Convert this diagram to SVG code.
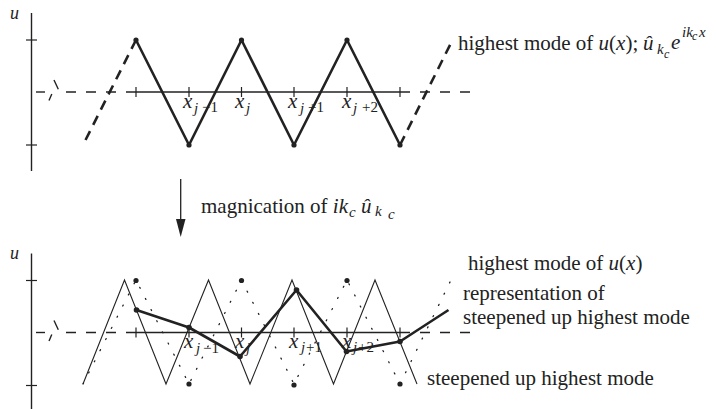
<svg xmlns="http://www.w3.org/2000/svg" width="716" height="409" viewBox="0 0 716 409">
<style>
.t{font-size:21px}
.i{font-style:italic}
.s{font-size:15px}
.ul{font-size:18px}
.ss{font-size:12px}
.f{font-family:'Liberation Serif',serif}
.ax{stroke:#222;stroke-width:1.4;fill:none}
.axd{stroke:#222;stroke-width:1.4;fill:none;stroke-dasharray:10 10}
.tk{stroke:#222;stroke-width:1.2}
.bold{stroke:#222;stroke-width:2.6;fill:none;stroke-linejoin:round}
.boldd{stroke:#222;stroke-width:2.6;fill:none;stroke-dasharray:10 7}
.thin{stroke:#222;stroke-width:1.1;fill:none;stroke-linejoin:miter}
.dot{stroke:#222;stroke-width:1.3;fill:none;stroke-dasharray:1 11.5;stroke-linecap:round}
.v{fill:#222}
</style>
<defs>
<g id="axes">
<line class="ax" x1="31.5" y1="0" x2="31.5" y2="158"/>
<line class="tk" x1="26" y1="27" x2="37" y2="27"/>
<line class="tk" x1="26" y1="132" x2="37" y2="132"/>
<line class="ax" x1="36" y1="79" x2="45" y2="79"/>
<line class="ax" x1="49" y1="87.5" x2="51.8" y2="81"/>
<line class="ax" x1="54" y1="67" x2="58.3" y2="76.3"/>
<line class="axd" x1="66" y1="79" x2="126" y2="79"/>
<line class="ax" x1="126" y1="79" x2="410" y2="79"/>
<line class="axd" x1="420" y1="79" x2="472" y2="79"/>
<g class="tk">
<line x1="136" y1="74" x2="136" y2="84"/>
<line x1="189" y1="74" x2="189" y2="84"/>
<line x1="241.5" y1="74" x2="241.5" y2="84"/>
<line x1="294" y1="74" x2="294" y2="84"/>
<line x1="347" y1="74" x2="347" y2="84"/>
<line x1="400" y1="74" x2="400" y2="84"/>
</g>
</g>
</defs>

<g id="top-panel">
<use href="#axes" transform="translate(0,13)"/>
<text class="ul i f" x="10" y="19" font-family="Liberation Serif, serif" fill="#222">u</text>
<g id="top-labels" fill="#222">
<text class="t i f" x="183" y="108" font-family="Liberation Serif, serif">x</text><text class="s i f" x="194" y="113" font-family="Liberation Serif, serif">j</text><text class="s f" x="202" y="112" font-family="Liberation Serif, serif">−1</text>
<text class="t i f" x="235" y="108" font-family="Liberation Serif, serif">x</text><text class="s i f" x="246" y="113" font-family="Liberation Serif, serif">j</text>
<text class="t i f" x="288" y="108" font-family="Liberation Serif, serif">x</text><text class="s i f" x="300" y="113" font-family="Liberation Serif, serif">j</text><text class="s f" x="308" y="112" font-family="Liberation Serif, serif">+1</text>
<text class="t i f" x="342" y="108" font-family="Liberation Serif, serif">x</text><text class="s i f" x="353" y="113" font-family="Liberation Serif, serif">j</text><text class="s f" x="362" y="112" font-family="Liberation Serif, serif">+2</text>
</g>
<g id="top-mode">
<polyline class="bold" points="136,40 189,145 241.5,40 294,145 347,40 400,145"/>
<line class="boldd" x1="136" y1="40" x2="83" y2="145"/>
<line class="boldd" x1="400" y1="145" x2="451" y2="43"/>
<g class="v">
<circle cx="136" cy="40" r="2.6"/><circle cx="189" cy="145" r="2.6"/><circle cx="241.5" cy="40" r="2.6"/>
<circle cx="294" cy="145" r="2.6"/><circle cx="347" cy="40" r="2.6"/><circle cx="400" cy="145" r="2.6"/>
</g>
</g>
<g id="top-caption" fill="#222">
<text class="t f" x="458" y="50" font-family="Liberation Serif, serif">highest mode of <tspan class="i">u</tspan>(<tspan class="i">x</tspan>); </text>
<text class="t i f" x="643" y="50" font-family="Liberation Serif, serif">û</text>
<text class="s i f" x="657" y="54" font-family="Liberation Serif, serif">k</text><text class="ss i f" x="664" y="58" font-family="Liberation Serif, serif">c</text>
<text class="t i f" x="671" y="49" font-family="Liberation Serif, serif">e</text>
<text class="s i f" x="682" y="37" font-family="Liberation Serif, serif">ik</text><text class="ss i f" x="692" y="40" font-family="Liberation Serif, serif">c</text><text class="s i f" x="699" y="37" font-family="Liberation Serif, serif">x</text>
</g>
</g>

<g id="connectors">
<line x1="180.7" y1="179" x2="180.7" y2="221" stroke="#222" stroke-width="1.3"/>
<polygon points="176,219 185.5,219 180.7,237" fill="#222"/>
</g>
<g id="arrow-label" fill="#222">
<text class="t f" x="201" y="213" font-family="Liberation Serif, serif">magnication of <tspan class="i">ik</tspan></text>
<text class="s i f" x="349" y="217" font-family="Liberation Serif, serif">c</text>
<text class="t i f" x="361" y="213" font-family="Liberation Serif, serif">û</text>
<text class="s i f" x="375" y="216" font-family="Liberation Serif, serif">k</text><text class="s i f" x="388" y="219" font-family="Liberation Serif, serif">c</text>
</g>

<g id="bottom-panel">
<use href="#axes" transform="translate(0,253.5)"/>
<text class="ul i f" x="10" y="259" font-family="Liberation Serif, serif" fill="#222">u</text>
<g id="bottom-labels" fill="#222">
<text class="t i f" x="184" y="348" font-family="Liberation Serif, serif">x</text><text class="s i f" x="196" y="353" font-family="Liberation Serif, serif">j</text><text class="s f" x="203" y="353" font-family="Liberation Serif, serif">−1</text>
<text class="t i f" x="235" y="348" font-family="Liberation Serif, serif">x</text><text class="s i f" x="246" y="353" font-family="Liberation Serif, serif">j</text>
<text class="t i f" x="289" y="348" font-family="Liberation Serif, serif">x</text><text class="s i f" x="301" y="352" font-family="Liberation Serif, serif">j</text><text class="s f" x="306" y="352" font-family="Liberation Serif, serif">+1</text>
<text class="t i f" x="342" y="348" font-family="Liberation Serif, serif">x</text><text class="s i f" x="353" y="352" font-family="Liberation Serif, serif">j</text><text class="s f" x="358" y="352" font-family="Liberation Serif, serif">+2</text>
</g>
<g id="mode-u">
<polyline class="thin" points="83,384 124.5,280 166,384 208.5,280 250,384 292,280 333.5,384 375,280 417,384"/>
</g>
<g id="steepened-mode">
<polyline class="dot" points="83,384 136,280 189,384 241.5,280 294,384 347,280 400,384 451,280"/>
<g class="v">
<circle cx="136" cy="280.5" r="2.6"/><circle cx="189" cy="384" r="2.6"/><circle cx="241.5" cy="280.5" r="2.6"/>
<circle cx="294" cy="385" r="2.6"/><circle cx="347" cy="280.5" r="2.6"/><circle cx="400" cy="384" r="2.6"/>
</g>
</g>
<g id="representation">
<polyline class="bold" points="136.5,310 189,327.5 240,356.5 296.5,290 346.5,351.5 400,341.5 448.5,310"/>
<g class="v">
<circle cx="136.5" cy="310" r="2.8"/><circle cx="189" cy="327.5" r="2.8"/><circle cx="240" cy="356.5" r="2.8"/>
<circle cx="296.5" cy="290" r="2.8"/><circle cx="346.5" cy="351.5" r="2.8"/><circle cx="400" cy="341.5" r="2.8"/>
</g>
</g>
<g id="bottom-captions" fill="#222">
<text class="t f" x="468" y="270" font-family="Liberation Serif, serif">highest mode of <tspan class="i">u</tspan>(<tspan class="i">x</tspan>)</text>
<text class="t f" x="463" y="300" font-family="Liberation Serif, serif">representation of</text>
<text class="t f" x="463" y="324" font-family="Liberation Serif, serif">steepened up highest mode</text>
<text class="t f" x="427" y="385" font-family="Liberation Serif, serif">steepened up highest mode</text>
</g>
</g>
</svg>
